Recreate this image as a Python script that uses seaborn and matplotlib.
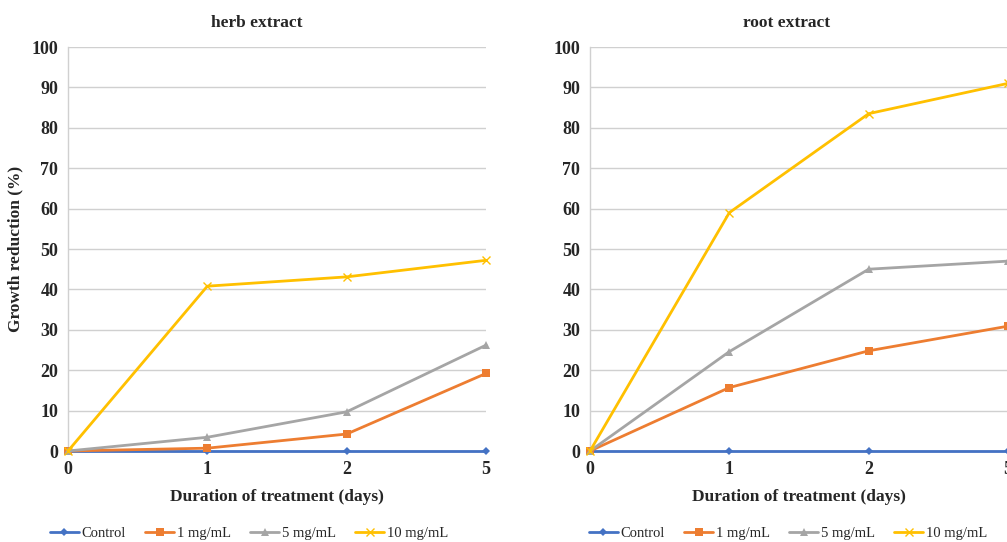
import numpy as np
import pandas as pd
import matplotlib
matplotlib.use("Agg")
import matplotlib.pyplot as plt
import seaborn as sns
from matplotlib.lines import Line2D

days = ["0", "1", "2", "5"]
series_names = ["Control", "1 mg/mL", "5 mg/mL", "10 mg/mL"]

herb_control = [0, 0, 0, 0]
herb_1 = [0, 0.7, 4.2, 19.2]
herb_5 = [0, 3.4, 9.7, 26.2]
herb_10 = [0, 40.8, 43.1, 47.2]

root_control = [0, 0, 0, 0]
root_1 = [0, 15.7, 24.8, 30.9]
root_5 = [0, 24.6, 45.0, 47.0]
root_10 = [0, 59.0, 83.5, 91.0]

colors = ["#4472C4", "#ED7D31", "#A5A5A5", "#FFC000"]
markers = ["D", "s", "^", "x"]
msizes = [4.5, 5.5, 6, 6]

sns.set_theme(style="white")
plt.rcParams["font.family"] = ["Liberation Serif", "DejaVu Serif"]

def make_df(vals):
    rows = []
    for name, v in zip(series_names, vals):
        for i, d in enumerate(days):
            rows.append({"pos": i, "day": d, "value": v[i], "series": name})
    return pd.DataFrame(rows)

fig = plt.figure(figsize=(10.07, 5.42), dpi=100)
W, H = 1007, 542

def axes_at(x0, x1, y0, y1):
    return fig.add_axes([x0 / W, 1 - y1 / H, (x1 - x0) / W, (y1 - y0) / H])

ax1 = axes_at(68, 486, 47, 451)
ax2 = axes_at(590, 1008, 47, 451)

panels = [
    (ax1, make_df([herb_control, herb_1, herb_5, herb_10]), "herb extract", 257, 249),
    (ax2, make_df([root_control, root_1, root_5, root_10]), "root extract", 787, 788),
]

pal = dict(zip(series_names, colors))
mk = dict(zip(series_names, markers))

for ax, df, title, tx, lx in panels:
    for name, ms in zip(series_names, msizes):
        sub = df[df["series"] == name]
        sns.lineplot(data=sub, x="pos", y="value", color=pal[name], marker=mk[name],
                     markersize=ms, markeredgecolor=pal[name], markeredgewidth=1.0 if mk[name] == "x" else 0,
                     linewidth=2, ax=ax, legend=False, clip_on=False, zorder=3)
    ax.set_xlim(0, 3)
    ax.set_ylim(0, 100)
    ax.set_yticks(np.arange(0, 101, 10))
    ax.set_xticks(range(len(days)))
    ax.set_xticklabels(days)
    ax.yaxis.grid(True, color="#D0D0D0", linewidth=1)
    ax.xaxis.grid(False)
    for s in ["top", "right"]:
        ax.spines[s].set_visible(False)
    ax.spines["left"].set_color("#D0D0D0")
    ax.spines["bottom"].set_color("#BFBFBF")
    ax.spines["left"].set_linewidth(1)
    ax.spines["bottom"].set_linewidth(1)
    ax.tick_params(axis="both", length=0, labelsize=13, pad=7)
    for lab in ax.get_xticklabels() + ax.get_yticklabels():
        lab.set_fontweight("bold")
    ax.set_xlabel("Duration of treatment (days)", fontsize=12.5, fontweight="bold", labelpad=8)
    ax.set_ylabel("")
    fig.text(tx / W, 1 - 23 / H, title, ha="center", va="center", fontsize=12.5, fontweight="bold")
    handles = [Line2D([0], [0], color=c, marker=m, markersize=ms, linewidth=2,
                      markeredgecolor=c, markeredgewidth=1.0 if m == "x" else 0)
               for c, m, ms in zip(colors, markers, msizes)]
    fig.legend(handles, series_names, loc="center", bbox_to_anchor=(lx / W, 1 - 533 / H),
               ncol=4, frameon=False, fontsize=10.5, handlelength=2.0, columnspacing=1.3,
               handletextpad=0.2)

ax1.set_ylabel("Growth reduction (%)", fontsize=12.5, fontweight="bold", labelpad=6)

fig.savefig("out.png", dpi=100)
